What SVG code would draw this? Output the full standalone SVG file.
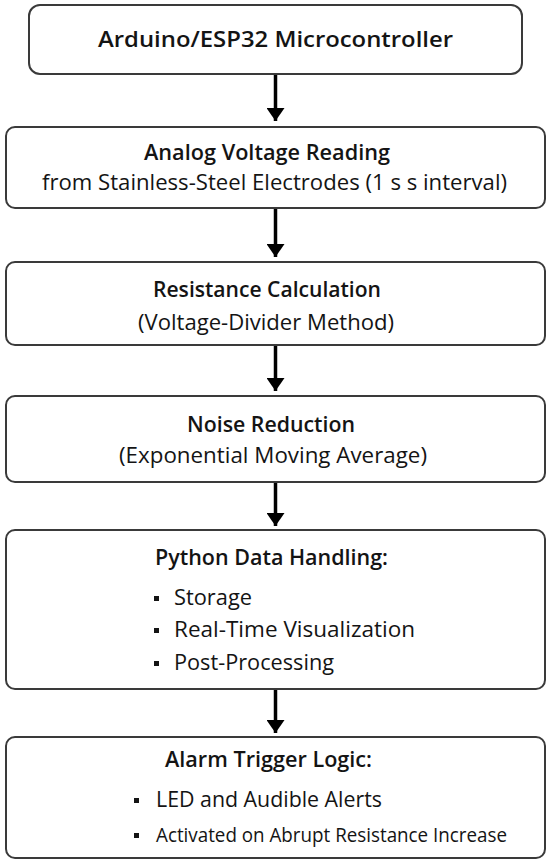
<svg xmlns="http://www.w3.org/2000/svg" width="550" height="867" viewBox="0 0 550 867">
<defs>
<style>
.box{fill:#fff;stroke:#3a3a3a;stroke-width:2}
.t{font-family:"Open Sans","Noto Sans",sans-serif;fill:#141414}
.b{font-weight:600;font-size:21px}
.r{font-size:21px}
.bl{fill:#141414}
.arr{stroke:#000;stroke-width:3.5;fill:none}
</style>
<marker id="ah" markerUnits="userSpaceOnUse" markerWidth="13" markerHeight="18" viewBox="0 0 13 18" refX="13" refY="9" orient="auto"><path d="M0,0 L13,9 L0,18 Z" fill="#000"/></marker>
</defs>
<rect width="550" height="867" fill="#fff"/>
<g id="connectors">
<line class="arr" x1="275.5" y1="74" x2="275.5" y2="121" marker-end="url(#ah)"/>
<line class="arr" x1="275.5" y1="208" x2="275.5" y2="257" marker-end="url(#ah)"/>
<line class="arr" x1="275.5" y1="345" x2="275.5" y2="391" marker-end="url(#ah)"/>
<line class="arr" x1="275.5" y1="482" x2="275.5" y2="526" marker-end="url(#ah)"/>
<line class="arr" x1="275.5" y1="689" x2="275.5" y2="733" marker-end="url(#ah)"/>
</g>
<g id="n1">
<rect class="box" x="29" y="5" width="493" height="69" rx="11"/>
<text class="t b" x="98" y="47" textLength="355" lengthAdjust="spacingAndGlyphs">Arduino/ESP32 Microcontroller</text>
</g>
<g id="n2">
<rect class="box" x="6" y="127" width="539" height="81" rx="9"/>
<text class="t b" x="144" y="160" textLength="246" lengthAdjust="spacingAndGlyphs">Analog Voltage Reading</text>
<text class="t r" x="42" y="190" textLength="465" lengthAdjust="spacingAndGlyphs">from Stainless-Steel Electrodes (1 s s interval)</text>
</g>
<g id="n3">
<rect class="box" x="6" y="262" width="539" height="83" rx="9"/>
<text class="t b" x="153" y="297" textLength="228" lengthAdjust="spacingAndGlyphs">Resistance Calculation</text>
<text class="t r" x="138" y="330" textLength="256" lengthAdjust="spacingAndGlyphs">(Voltage-Divider Method)</text>
</g>
<g id="n4">
<rect class="box" x="6" y="396" width="539" height="86" rx="9"/>
<text class="t b" x="187" y="432" textLength="168" lengthAdjust="spacingAndGlyphs">Noise Reduction</text>
<text class="t r" x="119" y="463" textLength="308" lengthAdjust="spacingAndGlyphs">(Exponential Moving Average)</text>
</g>
<g id="n5">
<rect class="box" x="6" y="530" width="539" height="159" rx="9"/>
<text class="t b" x="155" y="565" textLength="233" lengthAdjust="spacingAndGlyphs">Python Data Handling:</text>
<rect class="bl" x="154" y="596" width="5" height="5"/>
<text class="t r" x="174" y="605" textLength="78" lengthAdjust="spacingAndGlyphs">Storage</text>
<rect class="bl" x="154" y="628" width="5" height="5"/>
<text class="t r" x="174" y="637" textLength="241" lengthAdjust="spacingAndGlyphs">Real-Time Visualization</text>
<rect class="bl" x="154" y="661" width="5" height="5"/>
<text class="t r" x="174" y="670" textLength="160" lengthAdjust="spacingAndGlyphs">Post-Processing</text>
</g>
<g id="n6">
<rect class="box" x="6" y="737" width="539" height="121" rx="9"/>
<text class="t b" x="165" y="767" textLength="207" lengthAdjust="spacingAndGlyphs">Alarm Trigger Logic:</text>
<rect class="bl" x="134" y="798" width="5" height="5"/>
<text class="t r" x="156" y="807" textLength="226" lengthAdjust="spacingAndGlyphs">LED and Audible Alerts</text>
<rect class="bl" x="134" y="833" width="5" height="5"/>
<text class="t r" x="156" y="842" style="font-size:20px" textLength="351" lengthAdjust="spacingAndGlyphs">Activated on Abrupt Resistance Increase</text>
</g>
</svg>
